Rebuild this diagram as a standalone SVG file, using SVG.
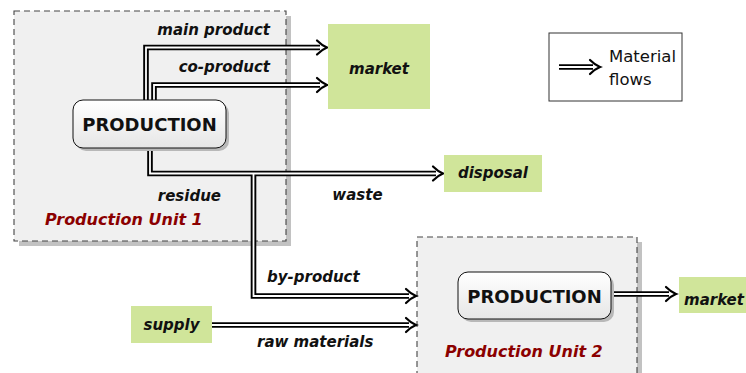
<svg xmlns="http://www.w3.org/2000/svg" width="746" height="373" viewBox="0 0 746 373">
<style>
text{font-family:"DejaVu Sans","Liberation Sans",sans-serif}
.unit{fill:#f0f0f0;stroke:#444;stroke-width:1.1;stroke-dasharray:6 4}
.ushadow{fill:#c2c2c2}
.node{fill:url(#ng);stroke:#111;stroke-width:1}
.nshadow{fill:#b8b8b8}
.ntext{font-size:18px;font-weight:bold;text-anchor:middle;fill:#111}
.green{fill:#d0e59a}
.gtext{font-size:15px;font-weight:bold;font-style:italic;text-anchor:middle;fill:#111}
.lbl{font-size:15px;font-weight:bold;font-style:italic;fill:#111}
.ulbl{font-size:16px;font-weight:bold;font-style:italic;fill:#8b0000}
.outer{fill:none;stroke:#000;stroke-width:5.6;stroke-linejoin:miter}
.inner{fill:none;stroke:#fff;stroke-width:1.8;stroke-linejoin:miter}
</style>
<defs>
<linearGradient id="ng" x1="0" y1="0" x2="0" y2="1">
<stop offset="0" stop-color="#ffffff"/>
<stop offset="1" stop-color="#e6e6e6"/>
</linearGradient>
<marker id="imp" markerUnits="userSpaceOnUse" markerWidth="20" markerHeight="20" viewBox="-10 -10 20 20" refX="0" refY="0" orient="auto" overflow="visible">
<path d="M-3,-7 Q2,-2 7,0 Q2,2 -3,7" fill="none" stroke="#000" stroke-width="2.2" stroke-linecap="round"/>
</marker>
</defs>
<rect width="746" height="373" fill="#fff"/>

<g id="unit1">
<rect class="ushadow" x="19" y="16" width="272" height="230"/>
<rect class="unit" x="14" y="11" width="272" height="230"/>
<text class="ulbl" x="45" y="225">Production Unit 1</text>
</g>
<g id="unit2">
<rect class="ushadow" x="422" y="242" width="220" height="160"/>
<rect class="unit" x="417" y="237" width="220" height="160"/>
<text class="ulbl" x="445" y="357">Production Unit 2</text>
</g>

<g id="connectors">
<g id="outer-lines">
<path class="outer" d="M146,100 V47.5 H320" marker-end="url(#imp)"/>
<path class="outer" d="M154,100 V85 H320" marker-end="url(#imp)"/>
<path class="outer" d="M150,148 V173.5 H436" marker-end="url(#imp)"/>
<path class="outer" d="M253.5,173.5 V296 H409" marker-end="url(#imp)"/>
<path class="outer" d="M212,325 H409" marker-end="url(#imp)"/>
<path class="outer" d="M611,294 H669" marker-end="url(#imp)"/>
</g>
<g id="inner-lines">
<path class="inner" d="M146,100 V47.5 H321"/>
<path class="inner" d="M154,100 V85 H321"/>
<path class="inner" d="M150,148 V173.5 H437"/>
<path class="inner" d="M253.5,173.5 V296 H410"/>
<path class="inner" d="M212,325 H410"/>
<path class="inner" d="M611,294 H670"/>
</g>
<text class="lbl" x="270" y="35" text-anchor="end">main product</text>
<text class="lbl" x="270" y="72" text-anchor="end">co-product</text>
<text class="lbl" x="221" y="201" text-anchor="end">residue</text>
<text class="lbl" x="357.5" y="200" text-anchor="middle">waste</text>
<text class="lbl" x="267" y="282">by-product</text>
<text class="lbl" x="257" y="347">raw materials</text>
</g>

<g id="production1">
<rect class="nshadow" x="76" y="103" width="153" height="48" rx="10"/>
<rect class="node" x="73" y="100" width="153" height="48" rx="10"/>
<text class="ntext" x="149.5" y="131">PRODUCTION</text>
</g>
<g id="production2">
<rect class="nshadow" x="461" y="275" width="153" height="47" rx="10"/>
<rect class="node" x="458" y="272" width="153" height="47" rx="10"/>
<text class="ntext" x="534.5" y="302.5">PRODUCTION</text>
</g>

<g id="market1">
<rect class="green" x="328" y="24" width="102" height="85"/>
<text class="gtext" x="379" y="74">market</text>
</g>
<g id="disposal">
<rect class="green" x="444" y="155" width="98" height="37"/>
<text class="gtext" x="493" y="178">disposal</text>
</g>
<g id="supply">
<rect class="green" x="131" y="306" width="81" height="37"/>
<text class="gtext" x="171.5" y="330">supply</text>
</g>
<g id="market2">
<rect class="green" x="679" y="277" width="80" height="36"/>
<text class="gtext" x="714" y="305">market</text>
</g>

<g id="legend">
<rect x="549" y="33" width="133" height="68" fill="#fff" stroke="#333" stroke-width="1"/>
<path class="outer" d="M559,67 H593" marker-end="url(#imp)"/>
<path class="inner" d="M559,67 H594"/>
<text x="609" y="62" font-size="16.5" fill="#111">Material</text>
<text x="609" y="85" font-size="16.5" fill="#111">flows</text>
</g>
</svg>
